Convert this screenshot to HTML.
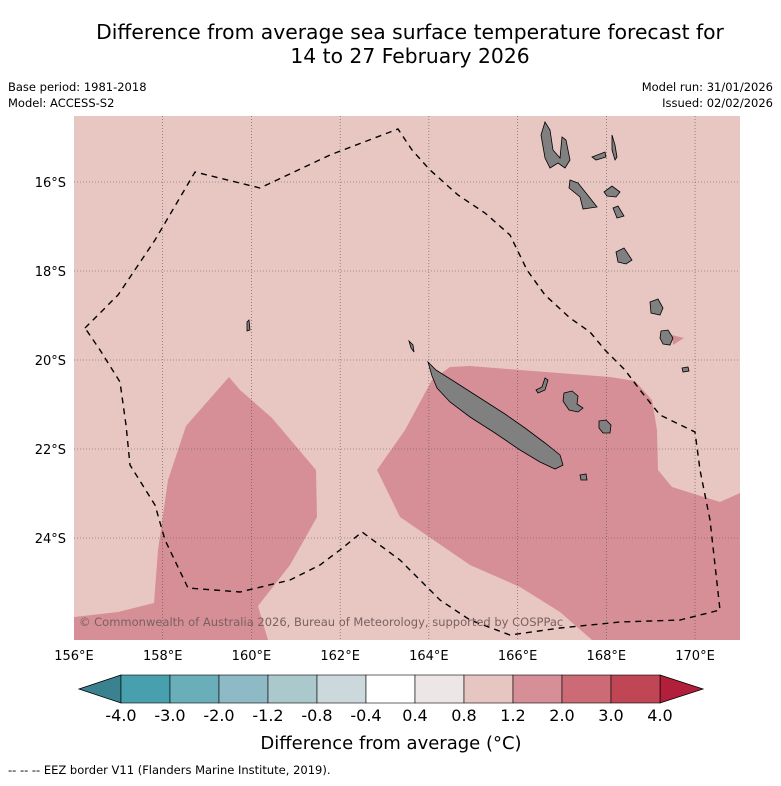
<!DOCTYPE html>
<html><head><meta charset="utf-8"><style>
body{margin:0;background:#fff;}
svg{font-family:"DejaVu Sans","Liberation Sans",sans-serif;}
</style></head><body>
<svg width="781" height="781" viewBox="0 0 781 781">
<rect width="781" height="781" fill="#fff"/>
<text x="410" y="39" font-size="20.3" text-anchor="middle">Difference from average sea surface temperature forecast for</text>
<text x="410" y="63" font-size="20.3" text-anchor="middle">14 to 27 February 2026</text>
<text x="8" y="91" font-size="11.5">Base period: 1981-2018</text>
<text x="8" y="107" font-size="11.5">Model: ACCESS-S2</text>
<text x="773" y="91" font-size="11.5" text-anchor="end">Model run: 31/01/2026</text>
<text x="773" y="107" font-size="11.5" text-anchor="end">Issued: 02/02/2026</text>
<g>
<rect x="74" y="116" width="666" height="524" fill="#e8c7c2"/>
<polygon fill="#d68f97" points="74,617 118,612 154,603 158,550 168,480 186,426 229,377 240,390 272,418 316,470 317,517 290,565 258,606 268,640 74,640"/>
<polygon fill="#d68f97" points="377,470 405,430 432,380 450,367 470,366 520,370 610,377 635,381 652,400 657,430 658,470 672,487 720,502 740,493 740,640 592,640 560,612 520,587 470,565 400,517"/>
<polygon fill="#d68f97" points="672,335 684,338 673,345"/>
<g id="grid" stroke="#555" stroke-width="0.6" stroke-dasharray="1,2"></g>
<g fill="#808080" stroke="#000" stroke-width="0.8">
<path d="M428,362 L436,370 L455,382 L480,398 L505,414 L525,428 L545,443 L560,455 L563,465 L555,469 L540,462 L520,450 L495,433 L470,417 L450,402 L437,388 L432,376 Z"/>
<path d="M545,122 L550,130 L553,150 L560,158 L562,137 L566,140 L570,160 L565,168 L558,163 L550,168 L545,158 L541,135 Z"/>
<path d="M570,180 L578,183 L590,198 L597,207 L590,208 L583,209 L580,197 L569,188 Z"/>
<path d="M592,157 L605,152 L606,157 L596,160 Z"/>
<path d="M612,135 L615,145 L617,157 L615,160 L612,150 Z"/>
<path d="M604,192 L612,186 L620,192 L616,197 L607,196 Z"/>
<path d="M613,208 L618,206 L624,216 L617,218 Z"/>
<path d="M616,252 L624,248 L632,260 L626,264 L618,262 Z"/>
<path d="M650,302 L658,299 L663,308 L660,315 L651,313 Z"/>
<path d="M661,331 L668,330 L673,338 L670,345 L663,344 L660,338 Z"/>
<path d="M682,368 L688,367 L689,371 L683,372 Z"/>
<path d="M564,393 L572,391 L578,396 L577,404 L583,408 L578,412 L569,410 L563,401 Z"/>
<path d="M599,421 L606,420 L611,425 L610,433 L603,433 L599,428 Z"/>
<path d="M536,390 L542,387 L545,378 L548,380 L545,390 L538,393 Z"/>
<path d="M580,475 L586,474 L587,480 L581,480 Z"/>
<path d="M409,341 L413,345 L414,352 L411,348 Z"/>
<path d="M247,322 L249,320 L250,330 L247,331 Z"/>
</g>
<polyline fill="none" stroke="#000" stroke-width="1.4" stroke-dasharray="6,5" points="85,328 118,295 155,240 195,172 260,188 330,155 398,129 412,150 430,170 458,195 485,213 510,235 527,270 545,295 570,318 590,332 605,350 625,370 640,390 660,415 695,432 700,470 710,520 720,610 680,620 620,622 560,628 510,635 470,620 440,600 420,580 400,560 362,532 340,550 320,565 290,580 240,592 188,588 165,540 155,505 130,465 126,425 120,382 100,350 85,328"/>
<text x="79" y="626" font-size="11.5" fill="#7a6060">© Commonwealth of Australia 2026, Bureau of Meteorology, supported by COSPPac</text>
</g>
<g id="axes" font-size="13"></g>
<g id="cbar"></g>
<text x="391" y="749" font-size="18" text-anchor="middle">Difference from average (°C)</text>
<text x="8" y="774" font-size="11.5">--  --  -- EEZ border V11 (Flanders Marine Institute, 2019).</text>
</svg>
<script>
const NS="http://www.w3.org/2000/svg";
const lonTicks=[156,158,160,162,164,166,168,170];
const latTicks=[16,18,20,22,24];
const levels=["-4.0","-3.0","-2.0","-1.2","-0.8","-0.4","0.4","0.8","1.2","2.0","3.0","4.0"];
const colors=["#48a0ae","#6aaeb9","#8dbac4","#abc9cc","#cbd9dd","#ffffff","#ede6e6","#e7c6c2","#d68f97","#cc6b76","#c04555"];
const x=lon=>74+(lon-156)*44.36;
const y=lat=>182+(lat-16)*44.5;
function mk(t,a,p){const e=document.createElementNS(NS,t);for(const k in a)e.setAttribute(k,a[k]);p.appendChild(e);return e;}
const grid=document.getElementById('grid'),axes=document.getElementById('axes');
lonTicks.forEach(l=>{
 if(l>156){const g=mk('line',{x1:x(l),x2:x(l),y1:116,y2:640},grid);
 
 }
 const t=mk('text',{x:x(l),y:660,'text-anchor':'middle'},axes);t.textContent=l+'°E';
 
 
});
latTicks.forEach(l=>{
 const g=mk('line',{x1:74,x2:740,y1:y(l),y2:y(l)},grid);
 
 
 const t=mk('text',{x:66,y:y(l)+5,'text-anchor':'end'},axes);t.textContent=l+'°S';
 
 
});
const cb=document.getElementById('cbar');
const bx=i=>121+i*49;
const la=mk('polygon',{points:`${bx(0)},675 79,689 ${bx(0)},703`,fill:'#3b8290',stroke:'#000','stroke-width':0.8},cb);


const ra=mk('polygon',{points:`${bx(11)},675 703,689 ${bx(11)},703`,fill:'#b11f3a',stroke:'#000','stroke-width':0.8},cb);


colors.forEach((c,i)=>{
 const r=mk('rect',{x:bx(i),y:675,width:49,height:28,fill:c,stroke:'#000','stroke-width':0.6},cb);
 
 
});
levels.forEach((s,i)=>{
 const t=mk('text',{x:bx(i),y:721,'font-size':16,'text-anchor':'middle'},cb);t.textContent=s;
 
 
});
</script>
</body></html>
